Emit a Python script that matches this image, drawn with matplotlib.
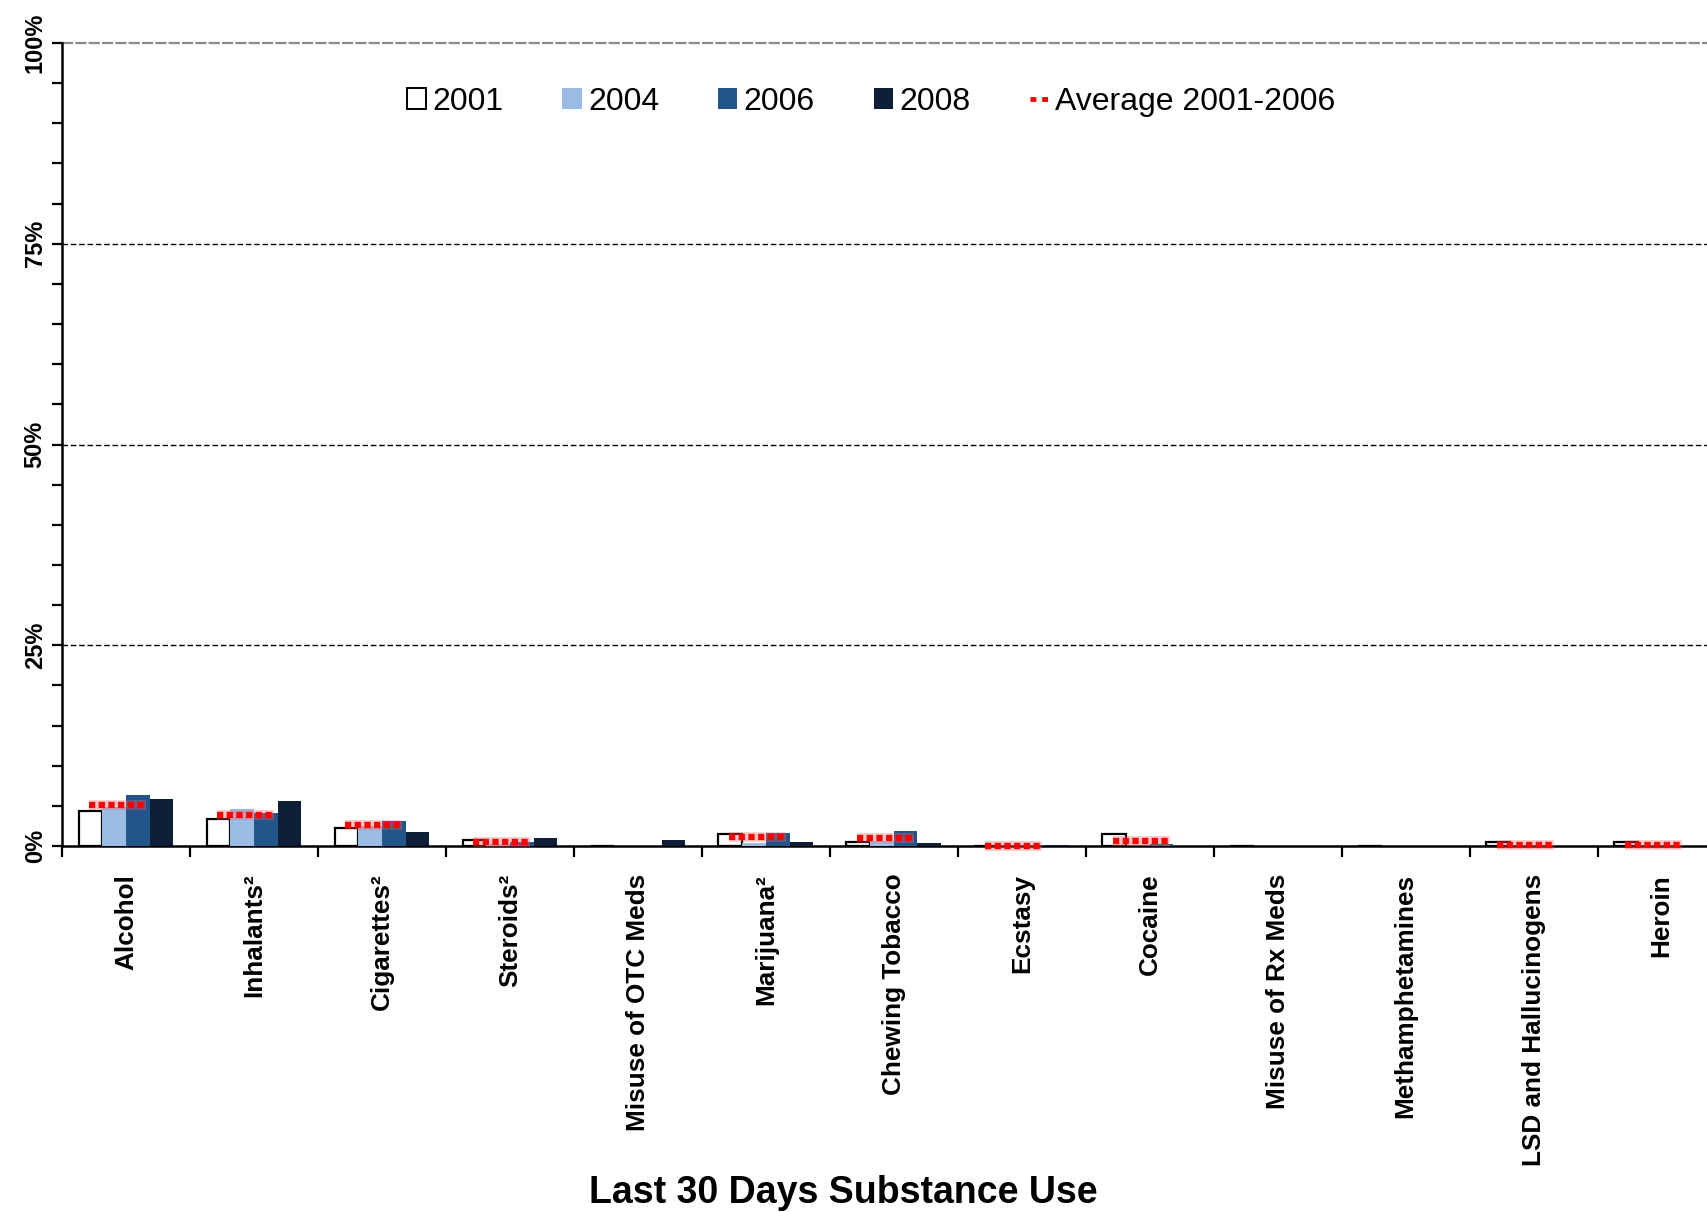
import numpy as np
import matplotlib.pyplot as plt
from matplotlib.lines import Line2D
from matplotlib.patches import Patch

plt.rcParams['font.family'] = ['Liberation Sans', 'DejaVu Sans']

# =========================
# Data (percent)
# =========================
categories = ["Alcohol", "Inhalants²", "Cigarettes²", "Steroids²", "Misuse of OTC Meds",
              "Marijuana²", "Chewing Tobacco", "Ecstasy", "Cocaine", "Misuse of Rx Meds",
              "Methamphetamines", "LSD and Hallucinogens", "Heroin"]
y2001 = [4.3, 3.3, 2.25, 0.75, 0, 1.5, 0.5, 0, 1.5, 0, 0, 0.5, 0.5]
y2004 = [4.8, 4.6, 2.5, 0.3, 0, 0.4, 0.6, 0, 0.05, 0, 0, 0.05, 0.05]
y2006 = [6.4, 4.15, 3.1, 0.5, 0, 1.6, 1.85, 0, 0.3, 0, 0, 0.05, 0.05]
y2008 = [5.9, 5.6, 1.8, 1.05, 0.8, 0.55, 0.35, 0.1, 0.05, 0.05, 0.05, 0, 0]
avg_01_06 = [5.1, 3.9, 2.6, 0.5, None, 1.1, 1.05, 0, 0.6, None, None, 0.15, 0.15]

series = [("2001", y2001, "white"), ("2004", y2004, "#99BBE4"),
          ("2006", y2006, "#24548C"), ("2008", y2008, "#0E1E36")]

fig = plt.figure(figsize=(17.08, 12.12), dpi=100)
ax = fig.add_axes([0.0363, 0.302, 0.974, 0.6625])

n = len(categories)
x = np.arange(n)
bw = 0.185

for i, (lab, vals, col) in enumerate(series):
    off = (i - 1.5) * bw
    if lab == "2001":
        ax.bar(x + off, vals, bw, color=col, edgecolor="black", linewidth=1.6, zorder=3)
    else:
        ax.bar(x + off, vals, bw, color=col, edgecolor="none", zorder=3)

# average 2001-2006 dotted red marks
for xi, a in zip(x, avg_01_06):
    if a is None:
        continue
    ax.hlines(a, xi - 1.55 * bw, xi + 0.85 * bw, colors="#ff6060", linewidth=7,
              alpha=0.35, zorder=4, clip_on=False)
    ax.hlines(a, xi - 1.55 * bw, xi + 0.85 * bw, colors="#ff0000", linewidth=4.5,
              linestyles=(0, (1, 0.55)), zorder=5, clip_on=False)

# gridlines
for g in [25, 50, 75]:
    ax.axhline(g, color="black", linewidth=1.0, linestyle=(0, (4, 2)), zorder=1)
ax.axhline(100, color="#888888", linewidth=1.6, linestyle=(0, (5, 1)), zorder=1, clip_on=False)

ax.set_xlim(-0.5, n - 0.5)
ax.set_ylim(0, 100)

ax.spines["top"].set_visible(False)
ax.spines["right"].set_visible(False)
ax.spines["left"].set_linewidth(1.8)
ax.spines["bottom"].set_linewidth(1.8)

ax.set_yticks([0, 25, 50, 75, 100])
ax.set_yticks(np.arange(0, 101, 5), minor=True)
ax.set_yticklabels(["0%", "25%", "50%", "75%", "100%"], rotation=90, va="center",
                   fontsize=17, fontweight="bold")
ax.tick_params(axis="y", which="both", direction="out", length=7, width=1.6, pad=4)

ax.set_xticks(np.arange(n + 1) - 0.5)
ax.set_xticklabels([])
ax.set_xticks(x, minor=True)
ax.set_xticklabels(categories, minor=True, rotation=90, va="top", ha="center",
                   fontsize=18.8, fontweight="bold")
ax.tick_params(axis="x", which="major", direction="out", length=8, width=1.6)
ax.tick_params(axis="x", which="minor", length=0, pad=20)

fig.text(0.494, 0.016, "Last 30 Days Substance Use", ha="center", va="center",
         fontsize=27, fontweight="bold")

handles = [Patch(facecolor="white", edgecolor="black", linewidth=1.4),
           Patch(facecolor="#99BBE4"), Patch(facecolor="#24548C"), Patch(facecolor="#0E1E36"),
           Line2D([0], [0], color="#ff0000", linewidth=3.5, linestyle=(0, (1.2, 1.2)))]
labels = ["2001", "2004", "2006", "2008", "Average 2001-2006"]
fig.legend(handles, labels, loc="center", bbox_to_anchor=(0.510, 0.916), ncol=5,
           frameon=False, fontsize=23, handlelength=0.6, handleheight=0.6,
           handletextpad=0.2, columnspacing=1.85)

fig.savefig("out.png", dpi=100)
